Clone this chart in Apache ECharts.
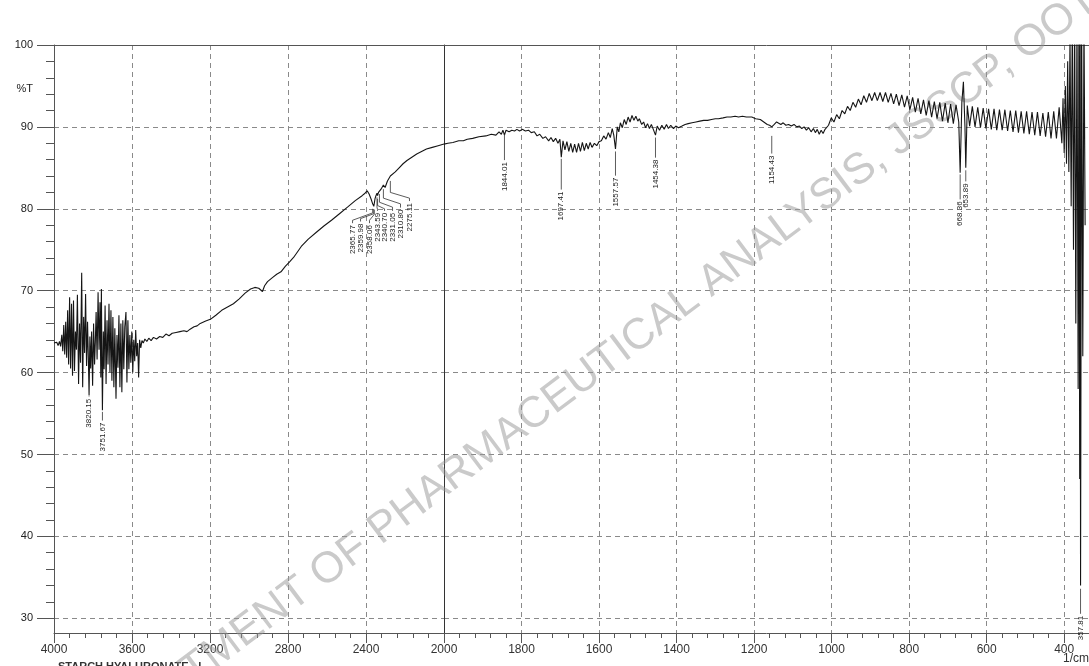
<!DOCTYPE html>
<html>
<head>
<meta charset="utf-8">
<script src="https://cdn.jsdelivr.net/npm/echarts@6/dist/echarts.min.js"></script>
<style>html,body{margin:0;padding:0;background:#fff}#c{width:1089px;height:666px}</style>
</head>
<body>
<div id="c"></div>
<script>
// ---------------- DATA ----------------
// Spectrum, 4000-2000 1/cm part: [wavenumber, %T]
const spectrumHigh = [
 [4000,63.6],[3993,63.4],[3986,63.7],[3979,63.3],[3972,63.8],[3966,63.2],[3960,64.6],[3955,62.6],[3950,65.8],[3945,62.2],
 [3940,66.2],[3935,61.8],[3930,67.6],[3925,61.0],[3920,69.2],[3915,60.5],[3910,68.4],[3905,59.6],[3900,68.8],[3895,60.2],
 [3890,65.0],[3885,62.8],[3880,69.5],[3874,58.6],[3869,66.0],[3864,61.2],[3858,72.2],[3853,58.2],[3848,66.8],[3843,62.4],
 [3838,69.6],[3833,60.8],[3828,66.2],[3824,62.0],[3820.15,57.2],[3816,64.4],[3812,60.5],[3807,65.0],[3802,58.4],[3797,66.0],
 [3792,61.0],[3788,63.8],[3784,67.4],[3779,61.6],[3774,69.8],[3769,62.8],[3764,68.6],[3760,59.4],[3757,70.2],[3754,61.0],
 [3751.67,55.4],[3747,65.0],[3743,60.4],[3738,68.2],[3733,58.6],[3728,66.4],[3723,61.0],[3718,68.4],[3713,60.0],[3708,67.6],
 [3703,59.0],[3698,66.8],[3693,58.2],[3688,65.4],[3682,56.8],[3677,64.6],[3672,60.6],[3667,67.0],[3662,58.2],[3657,66.0],
 [3652,57.6],[3647,66.4],[3642,60.4],[3637,65.6],[3631,67.4],[3626,58.8],[3621,66.4],[3616,60.4],[3611,64.6],[3606,61.2],
 [3601,65.0],[3596,60.0],[3591,64.0],[3586,61.4],[3581,65.2],[3576,62.0],[3571,63.6],[3566,59.4],[3561,64.0],[3555,63.0],
 [3549,63.9],[3542,63.6],[3534,64.1],[3524,63.8],[3514,64.2],[3502,63.9],[3490,64.3],[3474,64.1],[3458,64.4],[3442,64.3],
 [3426,64.7],[3410,64.5],[3394,64.8],[3374,64.9],[3354,65.0],[3334,65.1],[3318,65.0],[3302,65.3],[3282,65.6],[3266,65.7],
 [3250,66.0],[3222,66.3],[3198,66.5],[3170,67.0],[3140,67.6],[3110,68.0],[3080,68.4],[3050,69.0],[3020,69.7],[2992,70.2],
 [2970,70.4],[2950,70.3],[2940,70.3],[2931,69.9],[2920,70.6],[2905,71.1],[2880,71.6],[2858,72.0],[2836,72.3],[2813,73.0],
 [2793,73.5],[2767,74.2],[2732,75.4],[2696,76.3],[2656,77.1],[2616,77.9],[2577,78.6],[2536,79.4],[2495,80.2],[2455,81.0],
 [2420,81.6],[2405,81.9],[2394,82.2],[2384,81.8],[2374,81.2],[2365.77,80.6],[2362,80.4],[2359.98,80.3],[2358.06,80.5],[2354,81.2],
 [2349,81.6],[2346,81.4],[2343.59,81.9],[2340.70,81.6],[2336,82.0],[2331.05,82.2],[2328,81.9],[2320,82.5],[2310.80,82.9],[2302,82.6],
 [2290,83.4],[2275.11,84.0],[2266,83.8],[2250,84.5],[2230,85.0],[2210,85.5],[2190,85.9],[2165,86.3],[2140,86.7],[2115,87.0],
 [2090,87.3],[2060,87.5],[2030,87.7],[2000,87.9]
];
// Spectrum, 2000-346 1/cm part: [wavenumber, %T]
const spectrumLow = [
 [2000,87.9],[1990,88.0],[1977,88.1],[1962,88.3],[1950,88.3],[1940,88.5],[1926,88.6],[1910,88.8],[1892,88.9],[1878,89.1],
 [1866,89.0],[1858,89.4],[1852,89.1],[1848,89.6],[1844.01,89.0],[1840,89.6],[1832,89.4],[1825,89.6],[1818,89.5],[1812,89.7],
 [1805,89.5],[1798,89.7],[1790,89.5],[1782,89.6],[1775,89.3],[1767,89.4],[1760,88.9],[1753,89.1],[1745,88.6],[1738,88.8],
 [1730,88.3],[1724,88.7],[1718,88.2],[1712,88.6],[1706,88.0],[1701,88.5],[1697.41,86.3],[1693,88.3],[1688,87.2],[1683,88.2],
 [1678,87.0],[1673,88.0],[1668,86.9],[1663,87.9],[1658,86.9],[1653,88.0],[1648,87.0],[1643,88.1],[1638,87.1],[1633,88.0],
 [1628,87.3],[1623,88.1],[1618,87.5],[1612,88.0],[1606,87.7],[1600,88.2],[1594,88.3],[1588,88.9],[1582,88.5],[1576,89.3],
 [1571,88.7],[1566,89.8],[1562,89.0],[1557.57,87.3],[1553,90.0],[1549,89.4],[1545,90.5],[1540,89.9],[1535,90.9],[1530,90.3],
 [1525,91.2],[1520,90.6],[1515,91.4],[1510,90.8],[1505,91.3],[1500,90.7],[1496,91.0],[1490,90.3],[1485,90.6],[1480,89.9],
 [1475,90.4],[1470,89.8],[1465,90.3],[1460,89.7],[1454.38,89.0],[1450,90.1],[1444,89.6],[1438,90.2],[1432,89.7],[1426,90.3],
 [1421,89.8],[1415,90.2],[1408,89.8],[1402,90.1],[1395,89.9],[1386,90.1],[1378,90.3],[1370,90.4],[1360,90.5],[1350,90.6],
 [1340,90.7],[1330,90.8],[1320,90.8],[1310,90.9],[1300,91.0],[1292,91.0],[1280,91.1],[1270,91.2],[1260,91.2],[1249,91.3],
 [1240,91.2],[1230,91.3],[1220,91.2],[1206,91.2],[1196,91.0],[1184,90.9],[1175,90.6],[1166,90.3],[1160,90.2],[1154.43,90.0],
 [1148,90.3],[1142,90.6],[1137,90.6],[1131,90.3],[1125,90.5],[1118,90.2],[1111,90.3],[1104,90.1],[1097,90.3],[1090,90.0],
 [1083,90.1],[1077,89.8],[1071,90.0],[1065,89.6],[1059,89.9],[1053,89.4],[1047,89.8],[1042,89.3],[1037,89.7],[1032,89.1],
 [1027,89.6],[1022,89.2],[1017,89.7],[1012,89.6],[1008,90.2],[1004,90.0],[1001,91.1],[994,90.6],[987,91.5],[980,91.0],
 [973,92.0],[966,91.6],[959,92.5],[952,92.0],[945,93.0],[938,92.4],[931,93.4],[924,92.7],[917,93.8],[910,93.0],
 [903,94.1],[896,93.2],[889,94.2],[882,93.2],[875,94.2],[868,93.1],[861,94.2],[854,93.0],[847,94.1],[840,92.8],
 [833,94.0],[826,92.6],[819,93.9],[812,92.4],[805,93.8],[798,92.1],[791,93.6],[784,91.8],[777,93.5],[770,91.6],
 [763,93.3],[756,91.4],[749,93.2],[742,91.2],[735,93.1],[728,91.0],[721,93.0],[714,90.7],[707,92.9],[700,90.5],
 [693,92.8],[686,90.4],[679,92.7],[672,90.6],[668.36,84.4],[664,93.0],[660,95.5],[656,90.0],[653.89,85.0],[650,92.6],
 [644,90.1],[637,92.5],[630,90.0],[623,92.4],[616,89.9],[609,92.3],[602,89.8],[595,92.2],[588,89.7],[581,92.2],
 [574,89.6],[567,92.1],[560,89.6],[553,92.1],[546,89.5],[539,92.0],[532,89.4],[525,92.0],[518,89.3],[511,91.9],
 [504,89.2],[497,91.9],[490,89.1],[483,91.8],[476,89.0],[469,91.8],[462,88.9],[455,91.7],[448,88.8],[441,91.8],
 [434,88.6],[427,91.9],[420,88.6],[413,92.4],[406,88.0],[403,93.5],[400,86.8],[397,95.0],[394,85.5],[391,98.0],
 [388,84.5],[385,101],[382,80.3],[379,104],[376,75],[373,104],[370,66],[367,104],[364,58],[362,104],
 [360,47],[358.8,104],[357.81,34.0],[355,104],[352,62],[349,104],[346,78]
];
// Peak annotations (label text = peak wavenumber)
const peakLabels = ['3820.15','3751.67','2365.77','2359.98','2358.06','2343.59','2340.70','2331.05','2310.80','2275.11',
                    '1844.01','1697.41','1557.57','1454.38','1154.43','668.36','653.89','357.81'];
// Leader geometry in data units: [leaderTop %T, elbow %T, label wavenumber, elbow2 %T, label top %T]
const peakLeaders = [
 [57.1,57.1,3820.15,57.1,56.8],
 [55.2,55.2,3751.67,55.2,53.9],
 [80.0,79.5,2469,78.6,78.0],
 [79.9,79.4,2428,78.8,78.2],
 [79.9,79.3,2382,78.6,78.0],
 [81.4,80.2,2341,79.9,79.5],
 [81.2,80.4,2305,80.0,79.5],
 [81.8,80.8,2264,80.2,79.5],
 [82.4,81.3,2223,80.6,79.9],
 [83.4,82.0,2177,81.3,80.7],
 [89.1,89.1,1844.01,89.1,85.7],
 [86.1,86.1,1697.41,86.1,82.1],
 [87.0,87.0,1557.57,87.0,83.8],
 [88.7,88.7,1454.38,88.7,86.0],
 [88.9,88.9,1154.43,88.9,86.5],
 [84.2,84.2,668.36,84.2,80.9],
 [84.7,84.7,653.89,84.7,83.1],
 [33.6,33.6,357.81,33.6,30.3]
];
// Axis ticks
const yMajor = [30,40,50,60,70,80,90,100];
const xMajorLow = [400,600,800,1000,1200,1400,1600,1800,2000];
const yTitle = '%T';
const xTitle = '1/cm';
const sampleName = 'STARCH HYALURONATE - I';
const watermark = 'DEPARTMENT OF PHARMACEUTICAL ANALYSIS, JSSCP, OOTY';

// ---------------- CHART ----------------
const FONT = 'Liberation Sans, Arial, sans-serif';
const AXC = '#555';
const dashed = {show:true, lineStyle:{color:'#8a8a8a', width:1, type:[5,4]}};
const Y_MIN = 28.2, Y_MAX = 100;
const yMinor = []; for (let v = 30; v < 100; v += 2) if (v % 10) yMinor.push(v);
const xMinorLow = []; for (let v = 440; v < 2000; v += 40) if (v % 200) xMinorLow.push(v);
const yLabelVals = yMajor.concat([94.6]);

function annot(filterFn) {
  const items = [], texts = [];
  peakLabels.forEach((t, i) => {
    const w = parseFloat(t);
    if (filterFn(w)) {
      const L = peakLeaders[i];
      items.push([w, L[0], L[1], L[2], L[3], L[4]]);
      texts.push(t);
    }
  });
  return {items, texts};
}
const aHigh = annot(w => w >= 2000), aLow = annot(w => w < 2000);

function makeRender(texts) {
  return function (params, api) {
    const p1 = api.coord([api.value(0), api.value(1)]);
    const p2 = api.coord([api.value(0), api.value(2)]);
    const p3 = api.coord([api.value(3), api.value(4)]);
    const pt = api.coord([api.value(3), api.value(5)]);
    const p4 = [pt[0], pt[1] - 2];
    return {type:'group', children:[
      {type:'polyline', shape:{points:[p1,p2,p3,p4]}, style:{stroke:'#333', fill:null, lineWidth:0.8}},
      {type:'text', x:pt[0], y:pt[1], rotation:Math.PI/2,
       style:{text:texts[params.dataIndex], fontSize:8, fontFamily:FONT, fill:'#222', align:'right', verticalAlign:'middle'}}
    ]};
  };
}

const chart = echarts.init(document.getElementById('c'), null, {renderer:'canvas'});
const option = {
  animation:false,
  backgroundColor:'#fff',
  textStyle:{fontFamily:FONT},
  grid:[
    {left:54, top:45, width:390, bottom:33, outerBoundsMode:'none'},
    {left:444, top:45, right:0, bottom:33, outerBoundsMode:'none'}
  ],
  xAxis:[
    {gridIndex:0, type:'value', position:'bottom', inverse:true, min:2000, max:4000, interval:400,
     axisLine:{show:true, onZero:false, lineStyle:{color:AXC}},
     axisTick:{show:true, length:10, lineStyle:{color:AXC}},
     minorTick:{show:true, splitNumber:5, length:5, lineStyle:{color:AXC}},
     axisLabel:{fontSize:12, color:'#333', margin:11, formatter:v => v === 2000 ? '' : String(v)},
     splitLine:dashed},
    {gridIndex:1, type:'value', position:'bottom', inverse:true, min:336, max:2000, splitNumber:8,
     axisLine:{show:true, onZero:false, lineStyle:{color:AXC}},
     axisTick:{show:true, length:10, customValues:xMajorLow, lineStyle:{color:AXC}},
     axisLabel:{fontSize:12, color:'#333', margin:11, customValues:xMajorLow, formatter:v => String(v)},
     splitLine:dashed},
    {gridIndex:1, type:'value', position:'bottom', inverse:true, min:336, max:2000,
     axisLine:{show:false, onZero:false},
     axisTick:{show:true, length:5, customValues:xMinorLow, lineStyle:{color:AXC}},
     axisLabel:{show:false}, splitLine:{show:false}},
    {gridIndex:0, type:'value', position:'top', inverse:true, min:2000, max:4000,
     axisLine:{show:true, onZero:false, lineStyle:{color:AXC}}, axisTick:{show:false}, axisLabel:{show:false}, splitLine:{show:false}},
    {gridIndex:1, type:'value', position:'top', inverse:true, min:336, max:2000,
     axisLine:{show:true, onZero:false, lineStyle:{color:AXC}}, axisTick:{show:false}, axisLabel:{show:false}, splitLine:{show:false}}
  ],
  yAxis:[
    {gridIndex:0, type:'value', position:'left', min:Y_MIN, max:Y_MAX,
     axisLine:{show:true, onZero:false, lineStyle:{color:AXC}},
     axisTick:{show:true, length:17, customValues:yMajor, lineStyle:{color:AXC}},
     axisLabel:{fontSize:11, color:'#222', margin:21, customValues:yLabelVals, formatter:v => v === 94.6 ? yTitle : String(v)},
     splitLine:dashed},
    {gridIndex:0, type:'value', position:'left', min:Y_MIN, max:Y_MAX,
     axisLine:{show:false, onZero:false},
     axisTick:{show:true, length:8, customValues:yMinor, lineStyle:{color:AXC}},
     axisLabel:{show:false}, splitLine:{show:false}},
    {gridIndex:1, type:'value', position:'left', min:Y_MIN, max:Y_MAX,
     axisLine:{show:true, onZero:false, lineStyle:{color:'#333'}},
     axisTick:{show:false}, axisLabel:{show:false}, splitLine:dashed}
  ],
  graphic:[
    {type:'text', x:593, y:371, rotation:36.9*Math.PI/180, z:1, silent:true,
     style:{text:watermark, fontSize:43.5, fontFamily:FONT, fill:'rgba(150,150,150,0.5)', align:'center', verticalAlign:'middle'}},
    {type:'text', x:58, y:661, style:{text:sampleName, fontSize:11, fontWeight:'bold', fontFamily:FONT, fill:'#333', align:'left', verticalAlign:'top'}},
    {type:'text', x:1089, y:659, style:{text:xTitle, fontSize:12, fontFamily:FONT, fill:'#333', align:'right', verticalAlign:'middle'}}
  ],
  series:[
    {type:'line', xAxisIndex:0, yAxisIndex:0, data:spectrumHigh, showSymbol:false, symbol:'none', clip:true, z:3,
     lineStyle:{color:'#151515', width:1.1}},
    {type:'line', xAxisIndex:1, yAxisIndex:2, data:spectrumLow, showSymbol:false, symbol:'none', clip:true, z:3,
     lineStyle:{color:'#151515', width:1.1}},
    {type:'custom', xAxisIndex:0, yAxisIndex:0, data:aHigh.items, renderItem:makeRender(aHigh.texts), z:4, silent:true},
    {type:'custom', xAxisIndex:1, yAxisIndex:2, data:aLow.items, renderItem:makeRender(aLow.texts), z:4, silent:true}
  ]
};
chart.setOption(option);
</script>
</body>
</html>
